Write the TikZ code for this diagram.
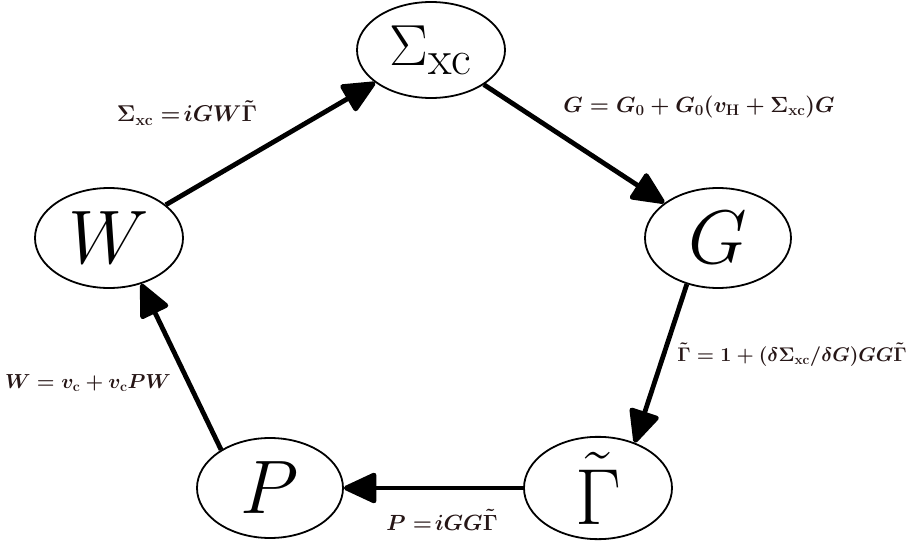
\documentclass[tikz,border=0pt]{standalone}
\usetikzlibrary{arrows.meta,shapes.geometric}
\definecolor{lblcol}{RGB}{38,22,22}
\newcommand{\bigtxt}[2]{\scalebox{#1}{\Huge #2}}
\newcommand{\lbltxt}[2]{\scalebox{#1}{\huge\boldmath #2}}
\begin{document}
\begin{tikzpicture}[x=1pt,y=-1pt,
  state/.style={ellipse,draw,line width=1.8pt,inner sep=0pt,minimum width=148pt,minimum height=100pt},
  conn/.style={line width=4.8pt,-{Triangle[length=36pt,width=32pt,round]}},
  lbl/.style={text=lblcol,inner sep=0pt}]
\useasboundingbox (0,0) rectangle (914,543);
\node[state,minimum height=96pt] (S) at (431,50) {\bigtxt{2.33}{$\Sigma_{\mathrm{xc}}$}};
\node[state] (W) at (109,238) {\bigtxt{3.05}{$W$}};
\node[state,minimum width=146pt] (G) at (718,238) {\bigtxt{3.05}{$G$}};
\node[state,minimum width=146pt] (P) at (270,488) {\bigtxt{3.05}{$P$}};
\node[state] (T) at (598,488) {\bigtxt{3.2}{$\tilde{\Gamma}$}};
\draw[conn] (W) -- (S);
\draw[conn] (S) -- (G);
\draw[conn] (G.236) -- (T.51);
\draw[conn] (T) -- (P);
\draw[conn] (P.142) -- (W.305);
\node[lbl] (l1) at (187,113) {\lbltxt{1.1}{$\Sigma_{\mathbf{xc}} =\! iGW\tilde{\Gamma}$}};
\node[lbl] (l2) at (699,107) {\lbltxt{1.06}{$G = G_0 + G_0(v_{\mathbf{H}} + \Sigma_{\mathbf{xc}})G$}};
\node[lbl] (l3) at (792,355) {\lbltxt{0.95}{$\tilde{\Gamma} = 1 + (\delta\Sigma_{\mathbf{xc}}/\delta G)GG\tilde{\Gamma}$}};
\node[lbl] (l4) at (88,383) {\lbltxt{0.98}{$W = v_{\mathbf{c}} + v_{\mathbf{c}}PW$}};
\node[lbl] (l5) at (442,520) {\lbltxt{1.06}{$P =\! iGG\tilde{\Gamma}$}};
\end{tikzpicture}
\end{document}
